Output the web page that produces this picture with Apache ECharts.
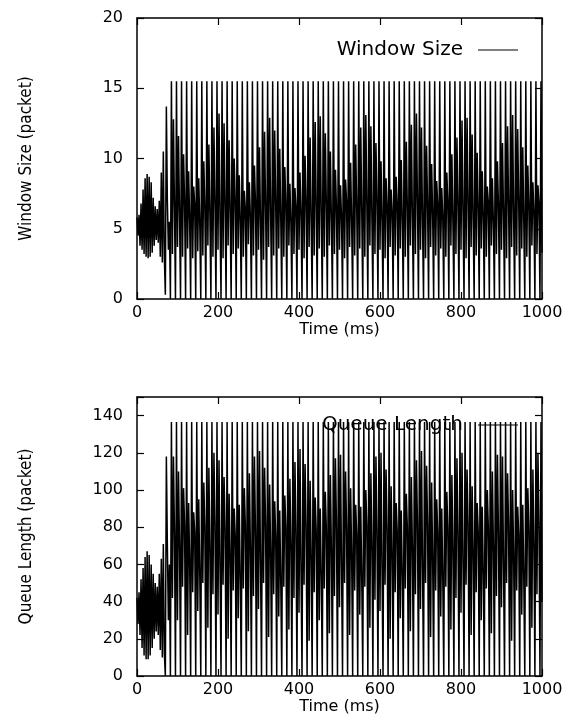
<!DOCTYPE html>
<html>
<head>
<meta charset="utf-8">
<script src="https://cdn.jsdelivr.net/npm/echarts@6/dist/echarts.min.js"></script>
<style>html,body{margin:0;padding:0;background:#fff;}#c{width:569px;height:724px;}</style>
</head>
<body>
<div id="c"></div>
<script>
// sampling step of both traces (ms)
const sampleStep = 2.5;
const xTicks = [0, 200, 400, 600, 800, 1000];
const windowTicks = [0, 5, 10, 15, 20];
const queueTicks = [0, 20, 40, 60, 80, 100, 120, 140];

// Window size (packets), one value every 2.5 ms from t = 0
const windowSize = [
  5.8,4.5,6.0,3.8,6.8,3.5,7.8,3.2,8.6,3.0,8.9,2.9,8.7,3.0,8.3,3.3,7.2,3.8,6.6,4.2,
  6.4,4.0,7.0,3.0,9.0,2.6,10.5,3.0,0.3,13.7,7.0,3.5,5.5,
  0,15.5,3.2,12.8,6.6, 0,15.5,3.7,11.6,6.0, 0,15.5,3.0,10.3,6.9, 0,15.5,3.6,9.1,5.6,
  0,15.5,2.9,8.0,6.7, 0,15.5,3.4,8.6,5.3, 0,15.5,3.1,9.8,6.5, 0,15.5,3.8,11.0,5.9,
  0,15.5,3.0,12.2,6.8, 0,15.5,3.5,13.2,5.5, 0,15.5,2.9,12.5,6.6, 0,15.5,3.8,11.3,6.1,
  0,15.5,3.2,10.0,7.0, 0,15.5,3.6,8.8,5.5, 0,15.5,3.0,7.7,6.4, 0,15.5,3.9,8.3,5.8,
  0,15.5,3.1,9.5,6.9, 0,15.5,3.5,10.8,5.3, 0,15.5,2.8,11.9,6.6, 0,15.5,3.7,12.9,6.0,
  0,15.5,3.1,12.0,6.8, 0,15.5,3.6,10.7,5.6, 0,15.5,3.0,9.4,6.7, 0,15.5,3.8,8.2,5.4,
  0,15.5,3.2,7.9,6.5, 0,15.5,3.5,9.0,6.0, 0,15.5,2.9,10.2,6.9, 0,15.5,3.7,11.5,5.5,
  0,15.5,3.1,12.6,6.6, 0,15.5,3.6,13.0,5.9, 0,15.5,3.0,11.8,6.8, 0,15.5,3.8,10.5,5.6,
  0,15.5,3.2,9.2,6.5, 0,15.5,3.5,8.1,5.8, 0,15.5,2.9,8.5,6.9, 0,15.5,3.7,9.7,5.4,
  0,15.5,3.1,11.0,6.6, 0,15.5,3.6,12.2,6.0, 0,15.5,3.0,13.1,6.7, 0,15.5,3.8,12.3,5.7,
  0,15.5,3.2,11.1,6.9, 0,15.5,3.5,9.8,5.5, 0,15.5,2.9,8.6,6.6, 0,15.5,3.7,7.8,6.1,
  0,15.5,3.1,8.7,6.8, 0,15.5,3.6,9.9,5.6, 0,15.5,3.0,11.2,6.5, 0,15.5,3.8,12.4,5.8,
  0,15.5,3.2,13.2,6.9, 0,15.5,3.5,12.2,5.4, 0,15.5,2.9,10.9,6.6, 0,15.5,3.7,9.6,6.0,
  0,15.5,3.1,8.4,6.7, 0,15.5,3.6,7.9,5.7, 0,15.5,3.0,9.0,6.9, 0,15.5,3.8,10.3,5.5,
  0,15.5,3.2,11.5,6.6, 0,15.5,3.5,12.7,6.1, 0,15.5,2.9,12.9,6.8, 0,15.5,3.7,11.7,5.6,
  0,15.5,3.1,10.4,6.5, 0,15.5,3.6,9.1,5.8, 0,15.5,3.0,8.0,6.9, 0,15.5,3.8,8.6,5.4,
  0,15.5,3.2,9.8,6.6, 0,15.5,3.5,11.1,6.0, 0,15.5,2.9,12.3,6.7, 0,15.5,3.7,13.1,5.7,
  0,15.5,3.1,12.1,6.9, 0,15.5,3.6,10.8,5.5, 0,15.5,3.0,9.5,6.6, 0,15.5,3.8,8.3,6.1,
  0,15.5,3.2,8.1,6.8, 0,15.5,3.3
];

// Queue length (packets), one value every 2.5 ms from t = 0
const queueLength = [
  42,28,45,22,52,15,58,11,64,9,67,9,65,11,60,15,55,20,50,24,
  48,22,55,14,63,10,71,12,0,118,70,30,60,
  0,136.5,42,118,78, 0,136.5,30,110,70, 0,136.5,48,101,81, 0,136.5,22,93,62,
  0,136.5,45,88,77, 0,136.5,35,95,54, 0,136.5,50,104,80, 0,136.5,26,112,67,
  0,136.5,44,120,82, 0,136.5,33,116,58, 0,136.5,49,107,79, 0,136.5,20,98,65,
  0,136.5,46,90,76, 0,136.5,31,92,52, 0,136.5,47,101,81, 0,136.5,24,109,69,
  0,136.5,43,118,78, 0,136.5,36,121,60, 0,136.5,50,112,82, 0,136.5,21,103,66,
  0,136.5,44,94,75, 0,136.5,32,89,50, 0,136.5,48,97,80, 0,136.5,25,106,71,
  0,136.5,42,115,77, 0,136.5,34,122,56, 0,136.5,49,114,81, 0,136.5,19,105,64,
  0,136.5,45,96,78, 0,136.5,30,90,53, 0,136.5,47,99,79, 0,136.5,23,108,68,
  0,136.5,43,117,82, 0,136.5,37,119,59, 0,136.5,50,110,80, 0,136.5,22,101,65,
  0,136.5,46,92,76, 0,136.5,33,91,51, 0,136.5,48,100,81, 0,136.5,26,109,70,
  0,136.5,41,118,77, 0,136.5,35,120,57, 0,136.5,49,111,79, 0,136.5,20,102,66,
  0,136.5,45,93,78, 0,136.5,31,89,54, 0,136.5,47,98,80, 0,136.5,24,107,69,
  0,136.5,44,116,82, 0,136.5,36,121,58, 0,136.5,50,113,81, 0,136.5,21,104,63,
  0,136.5,46,95,77, 0,136.5,32,90,52, 0,136.5,48,99,79, 0,136.5,25,108,68,
  0,136.5,42,117,76, 0,136.5,34,120,60, 0,136.5,49,111,82, 0,136.5,22,102,67,
  0,136.5,45,93,78, 0,136.5,30,91,55, 0,136.5,47,100,80, 0,136.5,23,110,70,
  0,136.5,43,119,77, 0,136.5,37,118,59, 0,136.5,50,109,81, 0,136.5,19,100,64,
  0,136.5,46,91,76, 0,136.5,33,92,53, 0,136.5,48,101,79, 0,136.5,26,111,71,
  0,136.5,44,120,82, 0,136.5,40
];

const seriesNames = ['Window Size', 'Queue Length'];
const yTitles = ['Window Size (packet)', 'Queue Length (packet)'];
const xTitle = 'Time (ms)';

function pairs(vals) { return vals.map((v, i) => [i * sampleStep, v]); }

const tickFont = { fontFamily: 'DejaVu Sans', fontSize: 16, color: '#000' };
const lineStyle = { color: '#000', width: 1.5 };
const narrowFont = "'DejaVu Sans Condensed', 'Liberation Sans Narrow', 'Roboto Condensed', 'Liberation Sans', sans-serif";

function xAx(gi, pos) {
  const bottom = pos === 'bottom';
  return {
    type: 'value', gridIndex: gi, position: pos,
    min: xTicks[0], max: xTicks[xTicks.length - 1], interval: xTicks[1] - xTicks[0],
    axisLine: { show: true, onZero: false, lineStyle: lineStyle },
    axisTick: { show: true, inside: true, length: 7, lineStyle: { color: '#000', width: 1.2 } },
    axisLabel: { show: bottom, margin: 6, ...tickFont, formatter: v => String(v) },
    splitLine: { show: false },
    name: bottom ? xTitle : '', nameLocation: 'middle', nameGap: 22,
    nameTextStyle: { fontFamily: 'DejaVu Sans', fontSize: 16, color: '#000' }
  };
}
function yAx(gi, pos, ticks, max, title) {
  const left = pos === 'left';
  return {
    type: 'value', gridIndex: gi, position: pos,
    min: ticks[0], max: max, interval: ticks[1] - ticks[0],
    axisLine: { show: true, onZero: false, lineStyle: lineStyle },
    axisTick: { show: true, inside: true, length: 7, lineStyle: { color: '#000', width: 1.2 } },
    axisLabel: { show: left, margin: 14, ...tickFont,
      formatter: v => (v > ticks[ticks.length - 1] ? '' : String(v)) },
    splitLine: { show: false },
    name: left ? title : '', nameLocation: 'middle', nameGap: 102,
    nameTextStyle: { fontFamily: narrowFont, fontSize: 17, color: '#000' }
  };
}

const legendText = { fontFamily: 'DejaVu Sans', fontSize: 20, color: '#000', padding: [0, 10, 0, 0] };

const chart = echarts.init(document.getElementById('c'), null, { renderer: 'canvas' });
chart.setOption({
  animation: false,
  backgroundColor: '#fff',
  grid: [
    { left: 137, top: 18, width: 405, height: 281 },
    { left: 137, top: 397, width: 405, height: 279 }
  ],
  legend: [
    { data: [seriesNames[0]], right: 46, top: 35, align: 'right', z: 1,
      icon: 'rect', itemWidth: 40, itemHeight: 1.2, textStyle: legendText },
    { data: [seriesNames[1]], right: 46, top: 410, align: 'right', z: 1,
      icon: 'rect', itemWidth: 40, itemHeight: 1.2, textStyle: legendText }
  ],
  xAxis: [xAx(0, 'bottom'), xAx(0, 'top'), xAx(1, 'bottom'), xAx(1, 'top')],
  yAxis: [
    yAx(0, 'left', windowTicks, 20, yTitles[0]), yAx(0, 'right', windowTicks, 20, ''),
    yAx(1, 'left', queueTicks, 150, yTitles[1]), yAx(1, 'right', queueTicks, 150, '')
  ],
  series: [
    { name: seriesNames[0], type: 'line', xAxisIndex: 0, yAxisIndex: 0, data: pairs(windowSize),
      showSymbol: false, symbol: 'none', sampling: null, z: 2,
      lineStyle: { color: '#000', width: 1.5 }, itemStyle: { color: '#000' } },
    { name: seriesNames[1], type: 'line', xAxisIndex: 2, yAxisIndex: 2, data: pairs(queueLength),
      showSymbol: false, symbol: 'none', sampling: null, z: 2,
      lineStyle: { color: '#000', width: 1.5 }, itemStyle: { color: '#000' } }
  ]
});
</script>
</body>
</html>
